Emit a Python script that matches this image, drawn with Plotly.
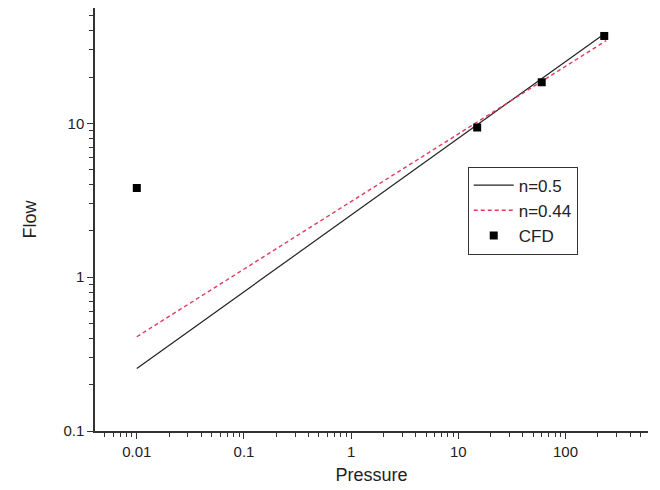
import plotly.graph_objects as go

# Datos
cfd_pressure = [0.01, 15, 60, 230]
cfd_flow = [3.8, 9.4, 18.5, 37]

fit05_pressure = [0.01, 240]
fit05_flow = [0.255, 39]

fit044_pressure = [0.01, 240]
fit044_flow = [0.41, 34.5]

tick_x = [0.01, 0.1, 1, 10, 100]
tick_x_text = ["0.01", "0.1", "1", "10", "100"]
tick_y = [0.1, 1, 10]
tick_y_text = ["0.1", "1", "10"]

FONT = "Liberation Sans, Arial, sans-serif"

fig = go.Figure()

fig.add_trace(go.Scatter(
    x=fit05_pressure, y=fit05_flow, mode="lines", name="n=0.5",
    line=dict(color="#222222", width=1.2),
))
fig.add_trace(go.Scatter(
    x=fit044_pressure, y=fit044_flow, mode="lines", name="n=0.44",
    line=dict(color="#e23c5c", width=1.4, dash="4px,3px"),
))
fig.add_trace(go.Scatter(
    x=cfd_pressure, y=cfd_flow, mode="markers", name="CFD",
    marker=dict(symbol="square", size=8, color="black"),
))

axis_common = dict(
    type="log",
    showgrid=False,
    zeroline=False,
    showline=True,
    linecolor="#333333",
    linewidth=1.5,
    ticks="outside",
    ticklen=6,
    tickwidth=1.3,
    tickcolor="#333333",
    tickfont=dict(family=FONT, size=15, color="#222222"),
    minor=dict(ticks="outside", ticklen=4, tickwidth=1, tickcolor="#333333",
               dtick="D1", showgrid=False),
)

fig.update_xaxes(
    **axis_common,
    range=[-2.39, 2.77],
    tickvals=tick_x, ticktext=tick_x_text,
    title=dict(text="Pressure", font=dict(family=FONT, size=18, color="#222222"), standoff=10),
)
fig.update_yaxes(
    **axis_common,
    range=[-1, 1.75],
    tickvals=tick_y, ticktext=tick_y_text,
    title=dict(text="Flow", font=dict(family=FONT, size=18, color="#222222"), standoff=22),
)

fig.update_layout(
    width=660, height=490,
    margin=dict(l=95, r=12, t=8, b=53),
    plot_bgcolor="white",
    paper_bgcolor="white",
    showlegend=True,
    legend=dict(
        x=0.674, y=0.625, xanchor="left", yanchor="top",
        bordercolor="#333333", borderwidth=1, bgcolor="white",
        font=dict(family=FONT, size=17, color="#222222"),
        tracegroupgap=0, itemwidth=40,
    ),
)

# sin margen del body para que la figura ocupe toda la ventana
fig.write_html("out.html", config={"displayModeBar": False},
               post_script="document.body.style.margin='0';")
